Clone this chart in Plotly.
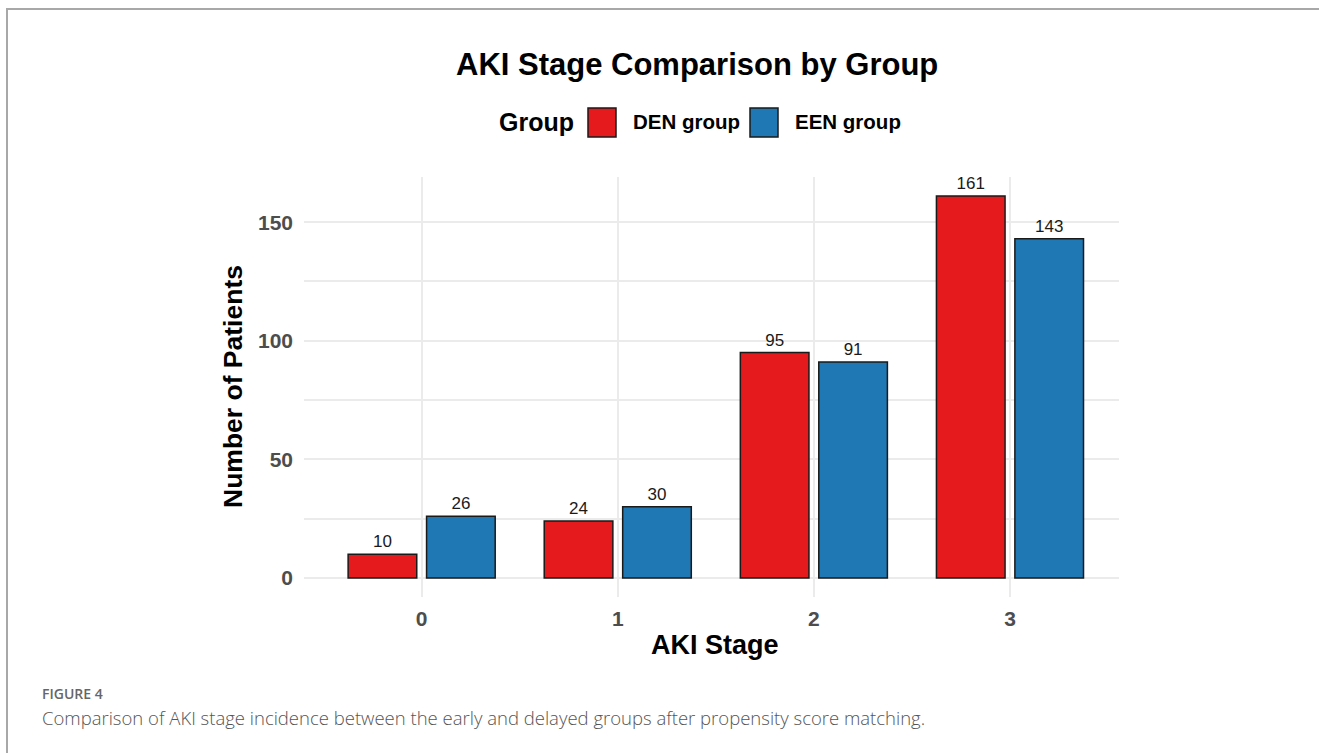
import plotly.graph_objects as go

# AKI stage counts per nutrition group
stages = ["0", "1", "2", "3"]
den_counts = [10, 24, 95, 161]
een_counts = [26, 30, 91, 143]
group_names = ["DEN group", "EEN group"]
group_colors = ["#E41A1C", "#1F78B4"]

W, H = 1319, 753
FONT = "Liberation Sans, Arial, sans-serif"
CAPTION_FONT = "Open Sans, sans-serif"


def px_x(p):
    return p / W


def px_y(p):
    return 1 - p / H


fig = go.Figure()
for name, vals, col in zip(group_names, [den_counts, een_counts], group_colors):
    fig.add_trace(go.Bar(
        name=name,
        x=stages,
        y=vals,
        marker=dict(color=col, line=dict(color="#1a1a1a", width=1.5)),
        text=vals,
        texttemplate="%{text}",
        textposition="outside",
        textfont=dict(family=FONT, size=17, color="#1a1a1a"),
        cliponaxis=False,
        showlegend=False,
    ))

grid = "#ebebeb"
fig.update_layout(
    width=W, height=H, autosize=False,
    margin=dict(l=0, r=0, t=0, b=0),
    paper_bgcolor="white", plot_bgcolor="white",
    barmode="group", bargap=0.2, bargroupgap=0.125,
    font=dict(family=FONT),
    xaxis=dict(
        domain=[px_x(304), px_x(1119)],
        type="category",
        range=[-0.6, 3.556],
        showgrid=True, gridcolor=grid, gridwidth=2,
        showline=False, zeroline=False, ticks="",
        tickfont=dict(family=FONT, size=21, color="#4d4d4d", weight="bold"),
        ticklabelstandoff=7,
    ),
    yaxis=dict(
        domain=[px_y(597), px_y(177)],
        range=[-8.05, 169.05],
        tickvals=[0, 50, 100, 150],
        showgrid=True, gridcolor=grid, gridwidth=2,
        minor=dict(dtick=25, tick0=0, showgrid=True, gridcolor=grid, gridwidth=1.5),
        showline=False, zeroline=False, ticks="",
        tickfont=dict(family=FONT, size=21, color="#4d4d4d", weight="bold"),
        ticklabelstandoff=10,
    ),
)

annotations = [
    dict(text="AKI Stage Comparison by Group", x=px_x(697), y=px_y(64),
         font=dict(family=FONT, size=31, color="black", weight="bold")),
    dict(text="Number of Patients", x=px_x(233), y=px_y(387), textangle=-90,
         font=dict(family=FONT, size=26.5, color="black", weight="bold")),
    dict(text="AKI Stage", x=px_x(715), y=px_y(645),
         font=dict(family=FONT, size=27, color="black", weight="bold")),
    dict(text="Group", x=px_x(497), y=px_y(122), xanchor="left",
         font=dict(family=FONT, size=25, color="black", weight="bold")),
    dict(text="FIGURE 4", x=px_x(40), y=px_y(693), xanchor="left",
         font=dict(family=CAPTION_FONT, size=14, color="#666666", weight=600)),
    dict(text="Comparison of AKI stage incidence between the early and delayed groups after propensity score matching.",
         x=px_x(40), y=px_y(717), xanchor="left",
         font=dict(family=CAPTION_FONT, size=18.5, color="#555555", weight=300)),
]

# legend keys drawn as boxes with labels
shapes = []
for name, col, x0, tx in zip(group_names, group_colors, [588, 750], [631, 793]):
    shapes.append(dict(type="rect", xref="paper", yref="paper",
                       x0=px_x(x0), x1=px_x(x0 + 28), y0=px_y(137), y1=px_y(108),
                       fillcolor=col, line=dict(color="#1a1a1a", width=1.5)))
    annotations.append(dict(text=name, x=px_x(tx), y=px_y(122), xanchor="left",
                            font=dict(family=FONT, size=20.5, color="black", weight="bold")))

# outer frame (top and left rules)
shapes.append(dict(type="line", xref="paper", yref="paper",
                   x0=px_x(6), x1=1, y0=px_y(9), y1=px_y(9),
                   line=dict(color="#a8a8a8", width=2)))
shapes.append(dict(type="line", xref="paper", yref="paper",
                   x0=px_x(7), x1=px_x(7), y0=px_y(9), y1=0,
                   line=dict(color="#a8a8a8", width=2)))

for a in annotations:
    a.setdefault("xref", "paper")
    a.setdefault("yref", "paper")
    a.setdefault("showarrow", False)
    a.setdefault("yanchor", "middle")
    a.setdefault("xanchor", "center")

fig.update_layout(annotations=annotations, shapes=shapes)
fig.write_html("out.html")
